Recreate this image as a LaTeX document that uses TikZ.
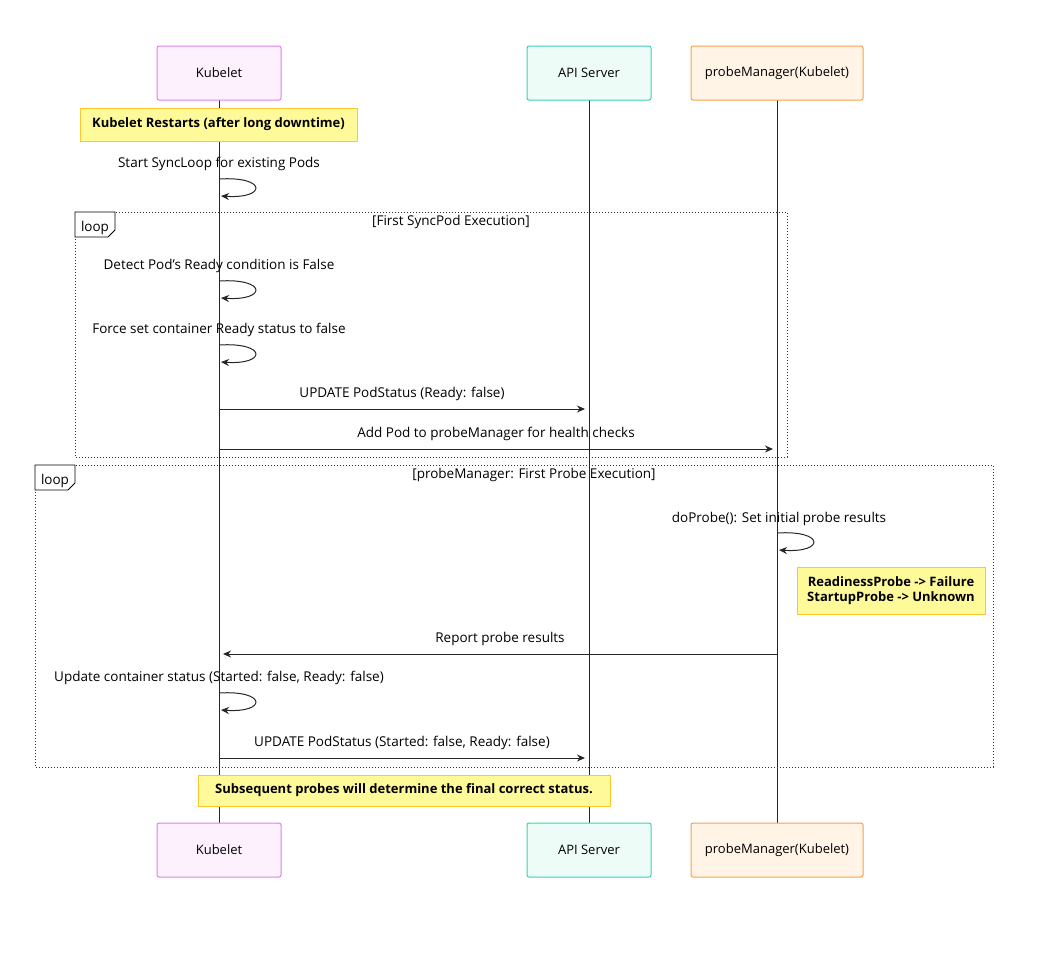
\documentclass[tikz,border=0pt]{standalone}
\usepackage{fontspec}
\setmainfont{Open Sans}
\usetikzlibrary{arrows.meta}
\begin{document}
\begin{tikzpicture}[x=1pt,y=-1pt,
 part/.style={line width=1pt,rounded corners=2pt,minimum height=54pt,font=\fontsize{13}{15}\selectfont,inner sep=0},
 note/.style={draw=yellow!50!orange!80!white,fill=yellow!40,line width=1pt,font=\bfseries\fontsize{13}{15.5}\selectfont,align=center},
 msg/.style={font=\fontsize{13.5}{15}\selectfont},
 arr/.style={-{Stealth[length=8pt,width=7pt]},line width=1pt,draw=black!85},
 life/.style={line width=1pt,draw=black!85},
 loopbox/.style={dotted,line width=1pt,draw=black!80}]
\useasboundingbox (0,0) rectangle (1050,953);
\definecolor{kb}{HTML}{E07FEC}\definecolor{kf}{HTML}{FDF1FE}
\definecolor{ab}{HTML}{3FD0B3}\definecolor{af}{HTML}{EEFCF8}
\definecolor{pb}{HTML}{F4A050}\definecolor{pf}{HTML}{FFF4E6}
\coordinate (kt) at (219,100); \coordinate (kbo) at (219,823);
\coordinate (at) at (589,100); \coordinate (abo) at (589,823);
\coordinate (pt) at (777,100); \coordinate (pbo) at (777,823);
\draw[life] (kt)--(kbo); \draw[life] (at)--(abo); \draw[life] (pt)--(pbo);
\node[part,draw=kb,fill=kf,minimum width=124pt] (k1) at (219,73) {Kubelet};
\node[part,draw=ab,fill=af,minimum width=124pt] (a1) at (589,73) {API Server};
\node[part,draw=pb,fill=pf,minimum width=172pt] (p1) at (777,73) {probeManager(Kubelet)};
\node[part,draw=kb,fill=kf,minimum width=124pt] (k2) at (219,850) {Kubelet};
\node[part,draw=ab,fill=af,minimum width=124pt] (a2) at (589,850) {API Server};
\node[part,draw=pb,fill=pf,minimum width=172pt] (p2) at (777,850) {probeManager(Kubelet)};
\node[note,minimum width=277pt,minimum height=33pt] (n1) at (218.5,124.5) {Kubelet Restarts (after long downtime)};
% loops
\draw[loopbox] (75,212) rectangle (787,457);
\draw[line width=0.8pt,fill=white] (75,212)--(115,212)--(115,230)--(108,237)--(75,237)--cycle;
\node[msg] (l1) at (95,228) {loop};
\node[msg] (l1t) at (451,222) {[First SyncPod Execution]};
\draw[loopbox] (35,465) rectangle (993,767);
\draw[line width=0.8pt,fill=white] (35,465)--(75,465)--(75,483)--(68,490)--(35,490)--cycle;
\node[msg] (l2) at (55,481) {loop};
\node[msg] (l2t) at (534,475) {[probeManager: First Probe Execution]};
% self messages
\foreach \y/\t/\x in {164/Start SyncLoop for existing Pods/219, 266/Detect Pod's Ready condition is False/219, 330/Force set container Ready status to false/219, 519/doProbe(): Set initial probe results/779, 678/{Update container status (Started: false, Ready: false)}/219}{
  \node[msg] at (\x,\y) {\t};
}
\foreach \x/\y in {219/179,219/281,219/345,777/533,219/693}{
  \draw[arr] (\x,\y) .. controls (\x+48,\y-3) and (\x+48,\y+20) .. (\x+2,\y+17);
}
\node[msg] (m1) at (402,394) {UPDATE PodStatus (Ready: false)};
\draw[arr] (kt|-0,409) -- (585,409);
\node[msg] (m2) at (496,434) {Add Pod to probeManager for health checks};
\draw[arr] (kt|-0,449) -- (773,449);
\node[note,minimum width=188pt,minimum height=47pt,inner sep=2pt] (n2) at (891,590.5) {ReadinessProbe -> Failure\\StartupProbe -> Unknown};
\node[msg] (m3) at (500,639) {Report probe results};
\draw[arr] (pt|-0,654) -- (223,654);
\node[msg] (m4) at (402,743) {UPDATE PodStatus (Started: false, Ready: false)};
\draw[arr] (kt|-0,758) -- (585,758);
\node[note,minimum width=412pt,minimum height=31pt] (n3) at (404,790.5) {Subsequent probes will determine the final correct status.};
\end{tikzpicture}
\end{document}
